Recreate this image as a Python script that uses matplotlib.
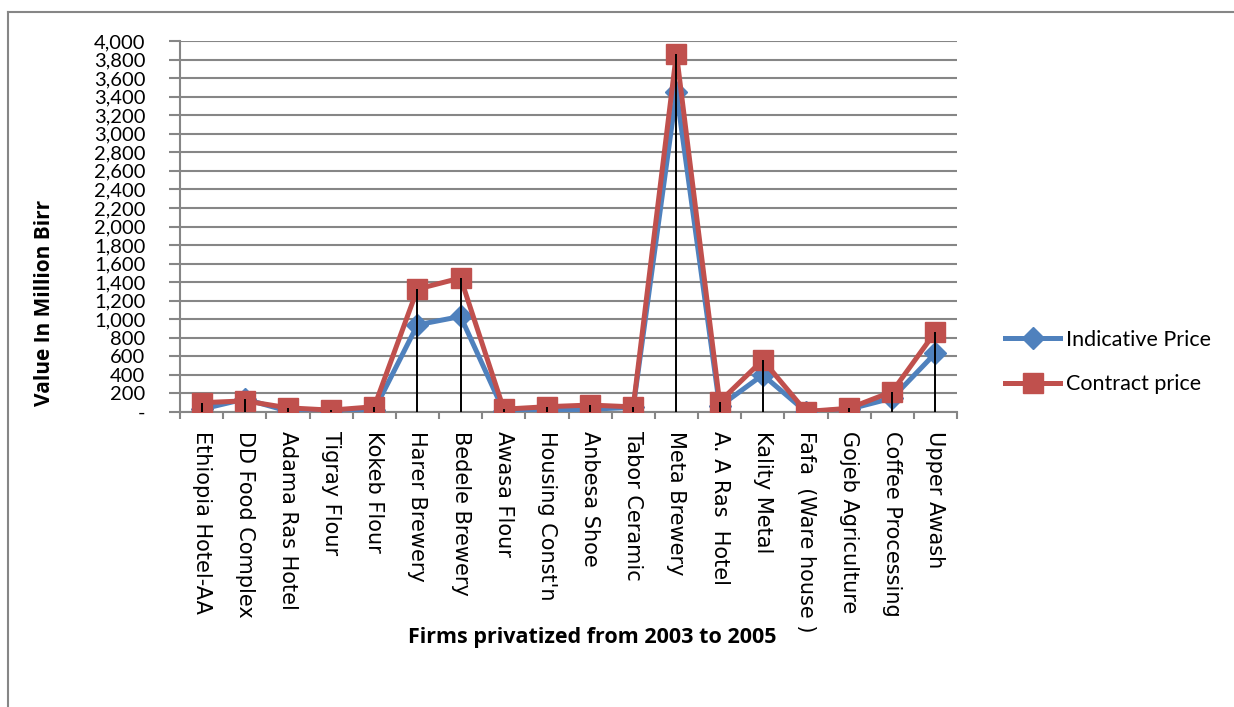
import matplotlib
matplotlib.use("Agg")
import matplotlib.pyplot as plt
from matplotlib.lines import Line2D
from matplotlib.ticker import FuncFormatter, MultipleLocator
import numpy as np

firms = ["Ethiopia Hotel-AA", "DD Food Complex", "Adama Ras Hotel", "Tigray Flour",
         "Kokeb Flour", "Harer Brewery", "Bedele Brewery", "Awasa Flour",
         "Housing Const'n", "Anbesa Shoe", "Tabor Ceramic", "Meta Brewery",
         "A. A Ras  Hotel", "Kality Metal", "Fafa  (Ware house )", "Gojeb Agriculture",
         "Coffee Processing", "Upper Awash"]
indicative = [30, 140, 10, 5, 20, 940, 1030, 10, 20, 30, 50, 3450, 60, 400, 3, 30, 150, 635]
contract = [100, 120, 45, 20, 57, 1325, 1445, 30, 57, 75, 55, 3865, 110, 560, 5, 40, 220, 865]

BLUE = "#4F81BD"
RED = "#C0504D"
GRID = "#868686"

W, H = 1234, 707
fig = plt.figure(figsize=(W / 100, H / 100), dpi=100)
ax = fig.add_axes([180 / W, 1 - 412 / H, (957 - 180) / W, (412 - 41) / H])

x = np.arange(len(firms))
ax.plot(x, indicative, color=BLUE, lw=3.6, marker="D", ms=11, label="Indicative Price", zorder=3)
ax.plot(x, contract, color=RED, lw=3.6, marker="s", ms=15, label="Contract price", zorder=4)
# drop lines from the higher series down to the axis
ax.vlines(x, 0, np.maximum(indicative, contract), color="black", lw=1.4, zorder=5)

ax.set_xlim(-0.5, len(firms) - 0.5)
ax.set_ylim(0, 4000)
ax.yaxis.set_major_locator(MultipleLocator(200))
ax.yaxis.set_major_formatter(FuncFormatter(lambda v, p: "-" if v == 0 else f"{int(v):,}"))
ax.grid(axis="y", color=GRID, lw=1.5)
ax.set_axisbelow(True)

ax.set_xticks(x)
ax.set_xticklabels(firms, rotation=270, fontsize=15, family="DejaVu Sans", va="top", ha="center")
ax.set_xticks(np.arange(-0.5, len(firms)), minor=True)
ax.tick_params(axis="x", which="major", length=0, pad=14)
ax.tick_params(axis="x", which="minor", length=5, color=GRID, width=1.5)
ax.tick_params(axis="y", length=8, color=GRID, width=1.5, pad=17, labelsize=14.5)
for lab in ax.get_yticklabels():
    lab.set_family("Lato")

for s in ("top", "right"):
    ax.spines[s].set_visible(False)
for s in ("left", "bottom"):
    ax.spines[s].set_color(GRID)
    ax.spines[s].set_linewidth(1.5)

fig.text(45 / W, 1 - 303 / H, "Value In Million Birr", rotation=90, ha="center", va="center",
         fontsize=15, fontweight="bold", family="Open Sans")
fig.text(592 / W, 1 - 638 / H, "Firms privatized from 2003 to 2005", ha="center", va="center",
         fontsize=15.5, fontweight="bold", family="Open Sans")

leg = fig.legend(loc="center left", bbox_to_anchor=(986 / W, 1 - 362 / H), frameon=False,
                 handlelength=2.55, labelspacing=1.15, handletextpad=0.25,
                 prop={"family": "Lato", "size": 15.5})

# outer chart frame (top and left edges visible)
fig.add_artist(Line2D([8 / W, 1], [1 - 12 / H, 1 - 12 / H], color=GRID, lw=1.5))
fig.add_artist(Line2D([8 / W, 8 / W], [0, 1 - 12 / H], color=GRID, lw=1.5))

fig.savefig("out.png", dpi=100)
